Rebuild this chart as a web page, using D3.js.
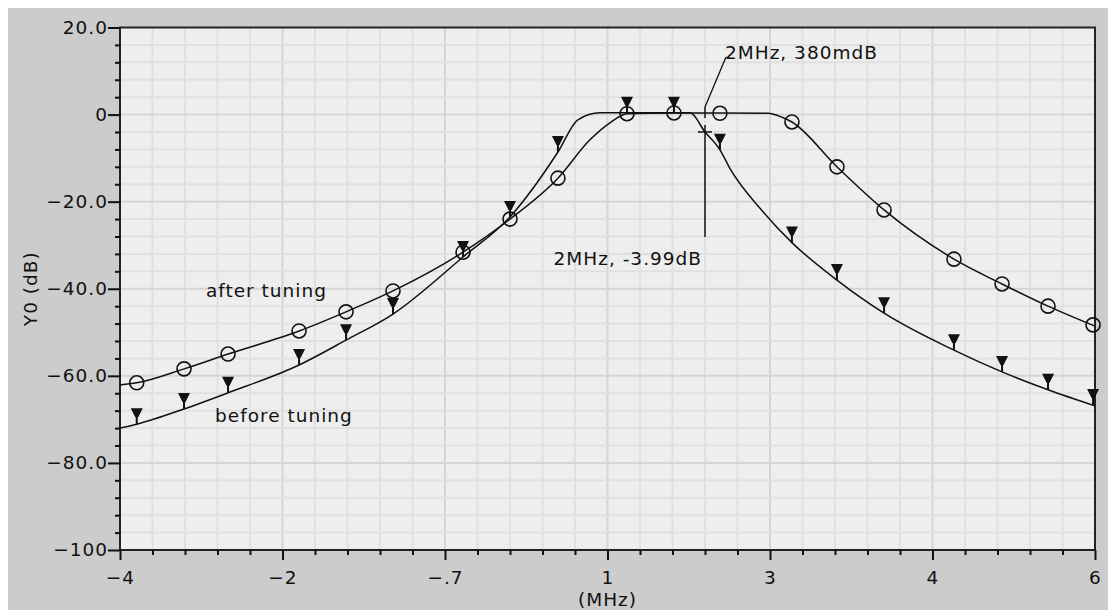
<!DOCTYPE html>
<html>
<head>
<meta charset="utf-8">
<script src="https://cdn.jsdelivr.net/npm/d3@7"></script>
<style>
  html, body { margin: 0; padding: 0; background: #fff; }
  svg { display: block; }
  text { font-family: "DejaVu Sans", sans-serif; font-size: 18.5px; letter-spacing: 1px; fill: #111; }
</style>
</head>
<body>
<div id="chart"></div>
<script>
// Filter response before / after tuning (Y0 in dB)

// x axis: tick positions 0..6 with their printed labels
const xTickLabels = ["\u22124", "\u22122", "\u2212.7", "1", "3", "4", "6"];
const yTickValues = [20, 0, -20, -40, -60, -80, -100];
const yTickLabels = ["20.0", "0", "\u221220.0", "\u221240.0", "\u221260.0", "\u221280.0", "\u2212100"];

// marker positions (shared by both traces)
const markerX = [0.103, 0.394, 0.665, 1.102, 1.391, 1.680, 2.111, 2.400, 2.695, 3.120,
                 3.409, 3.692, 4.135, 4.412, 4.702, 5.132, 5.428, 5.711, 5.988];
const afterMarkerDb = [-61.6, -58.4, -55.0, -49.7, -45.3, -40.5, -31.6, -24.0, -14.6, 0.2,
                       0.38, 0.3, -1.7, -12.0, -21.9, -33.2, -38.9, -44.0, -48.3];
const beforeMarkerDb = [-71.1, -67.6, -63.9, -57.5, -51.8, -45.8, -32.7, -23.5, -8.6, 0.4,
                        0.4, -8.1, -29.4, -38.0, -45.6, -54.1, -59.1, -63.2, -66.7];

// traced curves
const afterX = [0, 0.103, 0.394, 0.665, 1.102, 1.391, 1.680, 2.111, 2.400, 2.695, 2.892, 3.015,
                3.120, 3.409, 3.692, 3.988, 4.074, 4.135, 4.412, 4.702, 5.132, 5.428, 5.711, 6.0];
const afterDb = [-62.1, -61.6, -58.4, -55.0, -49.7, -45.3, -40.5, -31.6, -24.0, -14.6, -5.8, -1.9,
                 0.2, 0.38, 0.38, 0.3, -0.6, -1.7, -12.0, -21.9, -33.2, -38.9, -44.0, -48.6];
const beforeX = [0, 0.103, 0.394, 0.665, 1.102, 1.391, 1.680, 2.111, 2.400, 2.695, 2.818, 2.954,
                 3.120, 3.409, 3.508, 3.600, 3.692, 3.754, 3.957, 4.135, 4.412, 4.702, 5.132,
                 5.428, 5.711, 6.0];
const beforeDb = [-72.0, -71.1, -67.6, -63.9, -57.5, -51.8, -45.8, -32.7, -23.5, -8.6, -1.2, 0.4,
                  0.4, 0.4, 0.4, -3.99, -8.1, -12.4, -22.3, -29.4, -38.0, -45.6, -54.1,
                  -59.1, -63.2, -66.9];

// cursor read-outs
const cursorX = 3.6;
const cursorAfterDb = 0.38;
const cursorBeforeDb = -3.99;
const cursorAfterText = "2MHz, 380mdB";
const cursorBeforeText = "2MHz, -3.99dB";

// trace labels [x, dB, text]
const traceLabels = [[0.529, -41.9, "after tuning"], [0.585, -70.6, "before tuning"]];

const width = 1108;
const height = 611;
const plot = {left: 120, right: 1095, top: 27.5, bottom: 550};

const svg = d3.select("#chart")
    .append("svg")
    .attr("width", width)
    .attr("height", height);

svg.append("rect")
    .attr("x", 8).attr("y", 8)
    .attr("width", width - 8).attr("height", height - 9)
    .attr("fill", "#cccccc");

const xScale = d3.scaleLinear().domain([0, 6]).range([plot.left, plot.right]);
const yScale = d3.scaleLinear().domain([-100, 20]).range([plot.bottom, plot.top]);

svg.append("rect")
    .attr("x", plot.left).attr("y", plot.top)
    .attr("width", plot.right - plot.left).attr("height", plot.bottom - plot.top)
    .attr("fill", "#eeeeee");

// grid
const xMinor = d3.range(0, 31).map(i => i / 5);
const yMinor = d3.range(0, 31).map(i => 20 - i * 4);

const grid = svg.append("g");
grid.selectAll(".vg")
    .data(xMinor.filter(d => d > 0 && d < 6))
    .join("line")
    .attr("x1", d => xScale(d)).attr("x2", d => xScale(d))
    .attr("y1", plot.top).attr("y2", plot.bottom)
    .attr("stroke", d => Math.abs(d - Math.round(d)) < 1e-6 ? "#d5d5d5" : "#e0e0e0")
    .attr("stroke-width", 2);
grid.selectAll(".hg")
    .data(yMinor.filter(d => d > -100 && d < 20))
    .join("line")
    .attr("x1", plot.left).attr("x2", plot.right)
    .attr("y1", d => yScale(d)).attr("y2", d => yScale(d))
    .attr("stroke", d => d % 20 === 0 ? "#d5d5d5" : "#e0e0e0")
    .attr("stroke-width", 2);

// frame
svg.append("rect")
    .attr("x", plot.left).attr("y", plot.top)
    .attr("width", plot.right - plot.left).attr("height", plot.bottom - plot.top)
    .attr("fill", "none")
    .attr("stroke", "#222")
    .attr("stroke-width", 2);

// axes
const yAxis = d3.axisLeft(yScale)
    .tickValues(yTickValues)
    .tickSize(12)
    .tickPadding(0)
    .tickFormat((d, i) => yTickLabels[i]);
const yMinorAxis = d3.axisLeft(yScale)
    .tickValues(yMinor.filter(d => d % 20 !== 0))
    .tickSize(5)
    .tickFormat("");
const xAxis = d3.axisBottom(xScale)
    .tickValues(d3.range(0, 7))
    .tickSize(10)
    .tickPadding(11)
    .tickFormat((d, i) => xTickLabels[i]);
const xMinorAxis = d3.axisBottom(xScale)
    .tickValues(xMinor.filter(d => Math.abs(d - Math.round(d)) > 1e-6))
    .tickSize(5)
    .tickFormat("");

function styleAxis(g) {
    g.select(".domain").remove();
    g.selectAll(".tick line").attr("stroke", "#111").attr("stroke-width", 2);
    g.selectAll(".tick text").attr("fill", "#111").attr("font-size", null).attr("font-family", null);
}

svg.append("g").attr("transform", `translate(${plot.left},0)`).call(yAxis).call(styleAxis);
svg.append("g").attr("transform", `translate(${plot.left},0)`).call(yMinorAxis).call(styleAxis);
svg.append("g").attr("transform", `translate(0,${plot.bottom})`).call(xAxis).call(styleAxis);
svg.append("g").attr("transform", `translate(0,${plot.bottom})`).call(xMinorAxis).call(styleAxis);

// axis titles
svg.append("text")
    .attr("transform", `translate(37, ${(plot.top + plot.bottom) / 2}) rotate(-90)`)
    .attr("text-anchor", "middle")
    .text("Y0 (dB)");
svg.append("text")
    .attr("x", (plot.left + plot.right) / 2)
    .attr("y", 606)
    .attr("text-anchor", "middle")
    .text("(MHz)");

// curves
const line = d3.line()
    .x(d => xScale(d[0]))
    .y(d => yScale(d[1]))
    .curve(d3.curveMonotoneX);

const afterData = afterX.map((x, i) => [x, afterDb[i]]);
const beforeData = beforeX.map((x, i) => [x, beforeDb[i]]);

svg.append("path")
    .datum(beforeData)
    .attr("fill", "none")
    .attr("stroke", "#111")
    .attr("stroke-width", 1.5)
    .attr("d", line);
svg.append("path")
    .datum(afterData)
    .attr("fill", "none")
    .attr("stroke", "#111")
    .attr("stroke-width", 1.5)
    .attr("d", line);

// markers: circles for after tuning
svg.append("g").selectAll("circle")
    .data(markerX.map((x, i) => [x, afterMarkerDb[i]]))
    .join("circle")
    .attr("cx", d => xScale(d[0]))
    .attr("cy", d => yScale(d[1]))
    .attr("r", 7)
    .attr("fill", "none")
    .attr("stroke", "#111")
    .attr("stroke-width", 1.6);

// markers: stemmed down-triangles for before tuning
const tri = svg.append("g").selectAll("g")
    .data(markerX.map((x, i) => [x, beforeMarkerDb[i]]))
    .join("g")
    .attr("transform", d => `translate(${xScale(d[0])},${yScale(d[1])})`);
tri.append("path")
    .attr("d", "M-6,-16L6,-16L1.5,-7L-1.5,-7Z")
    .attr("fill", "#111");
tri.append("line")
    .attr("x1", 0).attr("x2", 0)
    .attr("y1", -8).attr("y2", 0)
    .attr("stroke", "#111")
    .attr("stroke-width", 2);

// cursor on after-tuning trace
const ca = [xScale(cursorX), yScale(cursorAfterDb)];
svg.append("line")
    .attr("x1", ca[0]).attr("x2", ca[0])
    .attr("y1", ca[1] - 6).attr("y2", ca[1] + 5)
    .attr("stroke", "#111").attr("stroke-width", 1.5);
svg.append("line")
    .attr("x1", ca[0]).attr("y1", ca[1] - 6)
    .attr("x2", ca[0] + 21).attr("y2", ca[1] - 56)
    .attr("stroke", "#111").attr("stroke-width", 1.3);
svg.append("text")
    .attr("x", ca[0] + 20)
    .attr("y", ca[1] - 54)
    .text(cursorAfterText);

// cursor on before-tuning trace
const cb = [xScale(cursorX), yScale(cursorBeforeDb)];
svg.append("line")
    .attr("x1", cb[0] - 7).attr("x2", cb[0] + 7)
    .attr("y1", cb[1]).attr("y2", cb[1])
    .attr("stroke", "#111").attr("stroke-width", 1.5);
svg.append("line")
    .attr("x1", cb[0]).attr("x2", cb[0])
    .attr("y1", cb[1] - 7).attr("y2", cb[1] + 105)
    .attr("stroke", "#111").attr("stroke-width", 1.5);
svg.append("text")
    .attr("x", cb[0] - 3)
    .attr("y", cb[1] + 133)
    .attr("text-anchor", "end")
    .text(cursorBeforeText);

// trace labels
svg.append("g").selectAll("text")
    .data(traceLabels)
    .join("text")
    .attr("x", d => xScale(d[0]))
    .attr("y", d => yScale(d[1]))
    .text(d => d[2]);
</script>
</body>
</html>
